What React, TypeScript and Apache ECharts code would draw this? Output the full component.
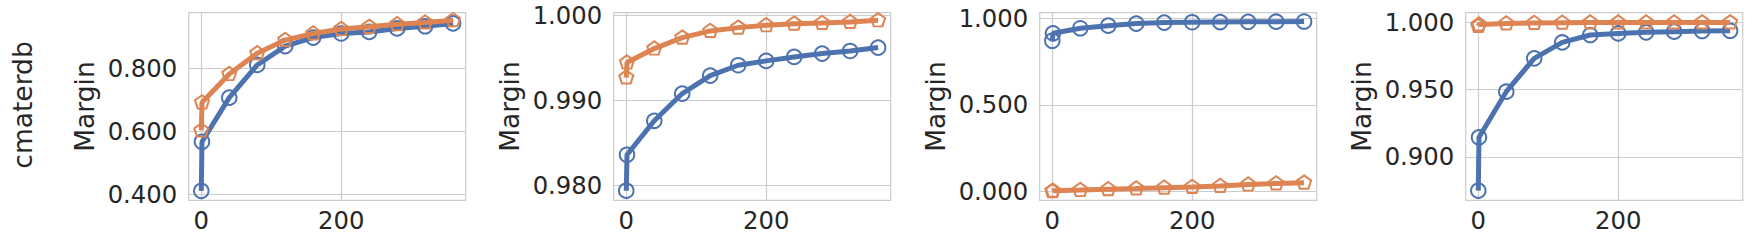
import React, { useEffect, useRef } from "react";
import * as echarts from "echarts";

const xValues = [0, 1, 40, 80, 120, 160, 200, 240, 280, 320, 360];
const xTicks = [0, 200];

const p1Blue = [0.411, 0.567, 0.707, 0.811, 0.871, 0.898, 0.911, 0.916, 0.927, 0.934, 0.943];
const p1Orange = [0.603, 0.692, 0.782, 0.848, 0.89, 0.911, 0.925, 0.932, 0.94, 0.946, 0.953];
const p1Ticks = [0.4, 0.6, 0.8];

const p2Blue = [0.97937, 0.98361, 0.98761, 0.99082, 0.99294, 0.99416, 0.99467, 0.99514, 0.99553, 0.99584, 0.99624];
const p2Orange = [0.99271, 0.99447, 0.99612, 0.99741, 0.9982, 0.99859, 0.99886, 0.99906, 0.99914, 0.99925, 0.99945];
const p2Ticks = [0.98, 0.99, 1.0];

const p3Blue = [0.87, 0.913, 0.942, 0.957, 0.969, 0.975, 0.977, 0.978, 0.979, 0.98, 0.981];
const p3Orange = [0.001, 0.003, 0.007, 0.012, 0.016, 0.021, 0.025, 0.031, 0.039, 0.045, 0.05];
const p3Ticks = [0.0, 0.5, 1.0];

const p4Blue = [0.875, 0.9146, 0.9485, 0.9733, 0.9851, 0.9906, 0.9918, 0.9926, 0.9931, 0.9936, 0.9938];
const p4Orange = [0.9973, 0.9985, 0.9992, 0.9996, 0.9998, 0.9999, 0.9999, 0.9999, 0.9999, 1.0, 1.0];
const p4Ticks = [0.9, 0.95, 1.0];

const yRanges = [
  [0.381, 0.977],
  [0.97824, 1.00035],
  [-0.052, 1.032],
  [0.8678, 1.0072],
];
const xRange = [-18, 378];

const rowLabel = "cmaterdb";
const yLabel = "Margin";

const BLUE = "#4c72b0";
const ORANGE = "#dd8452";
const TEXT = "#262626";
const GRIDC = "#cccccc";
const FONT = "DejaVu Sans";

const PENTAGON = "path://M0,-1 L0.9511,-0.309 L0.5878,0.809 L-0.5878,0.809 L-0.9511,-0.309 Z";

export default function App() {
  const ref = useRef<HTMLDivElement>(null);
  useEffect(() => {
    if (!ref.current) return;
    const chart = echarts.init(ref.current, null, { renderer: "svg" });
    const panels = [
      { blue: p1Blue, orange: p1Orange, ticks: p1Ticks },
      { blue: p2Blue, orange: p2Orange, ticks: p2Ticks },
      { blue: p3Blue, orange: p3Orange, ticks: p3Ticks },
      { blue: p4Blue, orange: p4Orange, ticks: p4Ticks },
    ];
    const lefts = [188.7, 613.7, 1039.7, 1465.7];
    const grids = lefts.map((l) => ({
      left: l,
      top: 12.7,
      width: 277,
      height: 187.6,
      show: true,
      borderColor: GRIDC,
      borderWidth: 1.2,
      backgroundColor: "transparent",
    }));
    const xAxes = lefts.map((_, i) => ({
      type: "value",
      gridIndex: i,
      min: xRange[0],
      max: xRange[1],
      axisLine: { show: false },
      axisTick: { show: false, customValues: xTicks },
      splitLine: { show: true, lineStyle: { color: GRIDC, width: 1.2 } },
      axisLabel: {
        customValues: xTicks,
        color: TEXT,
        fontFamily: FONT,
        fontSize: 24.3,
        margin: 8.5,
        formatter: (v: number) => String(v),
      },
    }));
    const yAxes = panels.map((p, i) => ({
      type: "value",
      gridIndex: i,
      min: yRanges[i][0],
      max: yRanges[i][1],
      name: yLabel,
      nameLocation: "middle",
      nameRotate: 90,
      nameGap: 91,
      nameTextStyle: { color: TEXT, fontFamily: FONT, fontSize: 26.5 },
      axisLine: { show: false },
      axisTick: { show: false, customValues: p.ticks },
      splitLine: { show: true, lineStyle: { color: GRIDC, width: 1.2 } },
      axisLabel: {
        customValues: p.ticks,
        color: TEXT,
        fontFamily: FONT,
        fontSize: 24.3,
        margin: 11.5,
        formatter: (v: number) => v.toFixed(3),
      },
    }));
    const series: any[] = [];
    panels.forEach((p, i) => {
      series.push({
        type: "line",
        xAxisIndex: i,
        yAxisIndex: i,
        data: xValues.map((x, k) => [x, p.blue[k]]),
        symbol: "circle",
        symbolSize: 14.5,
        showAllSymbol: true,
        lineStyle: { color: BLUE, width: 5 },
        itemStyle: { color: "none", borderColor: BLUE, borderWidth: 2 },
        z: 2,
      });
      series.push({
        type: "line",
        xAxisIndex: i,
        yAxisIndex: i,
        data: xValues.map((x, k) => [x, p.orange[k]]),
        symbol: PENTAGON,
        symbolSize: [14, 13.3],
        symbolOffset: [0, -0.6],
        showAllSymbol: true,
        lineStyle: { color: ORANGE, width: 5 },
        itemStyle: { color: "none", borderColor: ORANGE, borderWidth: 2 },
        z: 3,
      });
    });
    chart.setOption({
      animation: false,
      backgroundColor: "#ffffff",
      grid: grids,
      xAxis: xAxes,
      yAxis: yAxes,
      series,
      graphic: [
        {
          type: "text",
          x: 22.8,
          y: 105,
          rotation: Math.PI / 2,
          style: {
            text: rowLabel,
            fill: TEXT,
            font: `26.5px "${FONT}"`,
            align: "center",
            verticalAlign: "middle",
          },
        },
      ],
    });
    return () => chart.dispose();
  }, []);
  return (
    <div
      ref={ref}
      style={{ position: "absolute", left: 0, top: 0, width: 1749, height: 241 }}
    />
  );
}
